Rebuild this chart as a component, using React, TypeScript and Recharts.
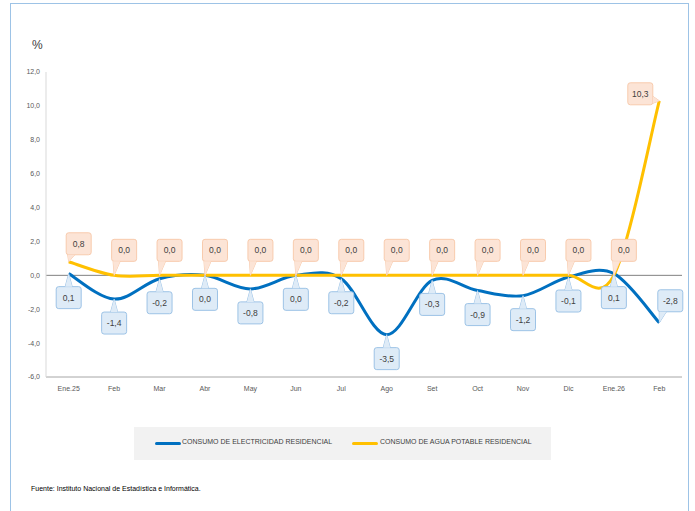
import { LineChart, Line, XAxis, YAxis, ReferenceLine } from 'recharts';

const months = ['Ene.25', 'Feb', 'Mar', 'Abr', 'May', 'Jun', 'Jul', 'Ago', 'Set', 'Oct', 'Nov', 'Dic', 'Ene.26', 'Feb'];
const electricidad = [0.1, -1.4, -0.2, 0.0, -0.8, 0.0, -0.2, -3.5, -0.3, -0.9, -1.2, -0.1, 0.1, -2.8];
const agua = [0.8, 0.0, 0.0, 0.0, 0.0, 0.0, 0.0, 0.0, 0.0, 0.0, 0.0, 0.0, 0.0, 10.3];
const yTicks = [-6, -4, -2, 0, 2, 4, 6, 8, 10, 12];

const data = months.map((m, i) => ({ key: `${m}-${i}`, month: m, elec: electricidad[i], agua: agua[i] }));

const FONT = "'Liberation Sans', Arial, sans-serif";
const BLUE = '#0070c0';
const YELLOW = '#ffc000';

const fmt = (v: number) => v.toFixed(1).replace('.', ',');

// smoothed line like Excel (Catmull-Rom, 1/6 control points)
function smoothCurve(context: any) {
  let pts: number[][] = [];
  return {
    areaStart() {},
    areaEnd() {},
    lineStart() {
      pts = [];
    },
    point(x: number, y: number) {
      pts.push([+x, +y]);
    },
    lineEnd() {
      const n = pts.length;
      if (!n) return;
      context.moveTo(pts[0][0], pts[0][1]);
      for (let i = 0; i < n - 1; i++) {
        const p0 = pts[Math.max(i - 1, 0)];
        const p1 = pts[i];
        const p2 = pts[i + 1];
        const p3 = pts[Math.min(i + 2, n - 1)];
        context.bezierCurveTo(
          p1[0] + (p2[0] - p0[0]) / 6,
          p1[1] + (p2[1] - p0[1]) / 6,
          p2[0] - (p3[0] - p1[0]) / 6,
          p2[1] - (p3[1] - p1[1]) / 6,
          p2[0],
          p2[1]
        );
      }
    },
  };
}

const clamp = (v: number, a: number, b: number) => Math.max(a, Math.min(b, v));

function Callout(props: any) {
  const { cx, cy, index, value, kind } = props;
  if (cx == null || cy == null) return null;
  const last = index === months.length - 1;
  let dx: number, dy: number;
  if (kind === 'elec') {
    dx = last ? 11 : 0;
    dy = last ? -22 : 24;
  } else {
    dx = last ? -19 : 10;
    dy = last ? -7 : index === 0 ? -18 : -25;
  }
  const w = 25;
  const h = 22;
  const bx = cx + dx - w / 2;
  const by = cy + dy - h / 2;
  const fill = kind === 'elec' ? '#deebf7' : '#fce4d6';
  const stroke = kind === 'elec' ? '#9dc3e6' : '#f8cbad';

  let tail: string;
  if (Math.abs(dy) > h / 2) {
    const ey = dy > 0 ? by : by + h;
    const mx = clamp(cx, bx + 5, bx + w - 5);
    tail = `${mx - 3.5},${ey} ${cx},${cy} ${mx + 3.5},${ey}`;
  } else {
    const ex = dx > 0 ? bx : bx + w;
    const my = clamp(cy, by + 5, by + h - 5);
    tail = `${ex},${my - 3.5} ${cx},${cy} ${ex},${my + 3.5}`;
  }
  return (
    <g key={`c-${kind}-${index}`}>
      <polygon points={tail} fill={fill} stroke={stroke} strokeWidth={1} />
      <rect x={bx} y={by} width={w} height={h} rx={2.5} fill={fill} stroke={stroke} strokeWidth={1} />
      <polygon points={tail} fill={fill} stroke="none" />
      <text
        x={bx + w / 2}
        y={by + h / 2 + 3}
        textAnchor="middle"
        fontSize={8.5}
        fontFamily={FONT}
        fill="#404040"
      >
        {fmt(value)}
      </text>
    </g>
  );
}

export default function App() {
  return (
    <div style={{ position: 'absolute', left: 0, top: 0, width: 695, height: 511, background: '#fff', overflow: 'hidden', fontFamily: FONT }}>
      <div
        style={{
          position: 'absolute',
          left: 10,
          top: 3,
          width: 677,
          height: 540,
          border: '1px solid #9dc3e6',
        }}
      />
      <div style={{ position: 'absolute', left: 32, top: 38, fontSize: 12, color: '#404040' }}>%</div>
      <div style={{ position: 'absolute', left: 0, top: 0 }}>
        <LineChart width={695} height={420} data={data} margin={{ top: 72, right: 13, left: 0, bottom: 13 }}>
          <XAxis
            dataKey="key"
            tickFormatter={(v: string) => v.split('-')[0]}
            interval={0}
            height={30}
            padding={{ left: 22.7, right: 22.7 }}
            axisLine={{ stroke: '#a6a6a6' }}
            tickLine={false}
            tickSize={6}
            tickMargin={3}
            tick={{ fontSize: 7, fill: '#595959', fontFamily: FONT }}
          />
          <YAxis
            domain={[-6, 12]}
            ticks={yTicks}
            interval={0}
            width={46}
            tickFormatter={(v: number) => fmt(v)}
            axisLine={{ stroke: '#d9d9d9' }}
            tickLine={false}
            tickSize={4}
            tickMargin={2}
            tick={{ fontSize: 7, fill: '#595959', fontFamily: FONT }}
          />
          <ReferenceLine y={0} stroke="#808080" strokeWidth={1} />
          <Line
            dataKey="elec"
            type={smoothCurve as any}
            stroke={BLUE}
            strokeWidth={3}
            dot={false}
            activeDot={false}
            isAnimationActive={false}
          />
          <Line
            dataKey="agua"
            type={smoothCurve as any}
            stroke={YELLOW}
            strokeWidth={3}
            dot={false}
            activeDot={false}
            isAnimationActive={false}
          />
          <Line
            dataKey="elec"
            stroke="none"
            legendType="none"
            dot={(p: any) => <Callout {...p} kind="elec" />}
            activeDot={false}
            isAnimationActive={false}
          />
          <Line
            dataKey="agua"
            stroke="none"
            legendType="none"
            dot={(p: any) => <Callout {...p} kind="agua" />}
            activeDot={false}
            isAnimationActive={false}
          />
        </LineChart>
      </div>
      <div
        style={{
          position: 'absolute',
          left: 134,
          top: 427,
          width: 417,
          height: 33,
          background: '#f2f2f2',
        }}
      >
        <div style={{ position: 'absolute', left: 21, top: 15, width: 26, height: 3, borderRadius: 2, background: BLUE }} />
        <div style={{ position: 'absolute', left: 48, top: 11, fontSize: 7, color: '#404040', whiteSpace: 'nowrap' }}>
          CONSUMO DE ELECTRICIDAD RESIDENCIAL
        </div>
        <div style={{ position: 'absolute', left: 218, top: 15, width: 26, height: 3, borderRadius: 2, background: YELLOW }} />
        <div style={{ position: 'absolute', left: 246, top: 11, fontSize: 7, color: '#404040', whiteSpace: 'nowrap' }}>
          CONSUMO DE AGUA POTABLE RESIDENCIAL
        </div>
      </div>
      <div style={{ position: 'absolute', left: 31, top: 485, fontSize: 7, color: '#000', whiteSpace: 'nowrap' }}>
        Fuente: Instituto Nacional de Estadística e Informática.
      </div>
    </div>
  );
}
